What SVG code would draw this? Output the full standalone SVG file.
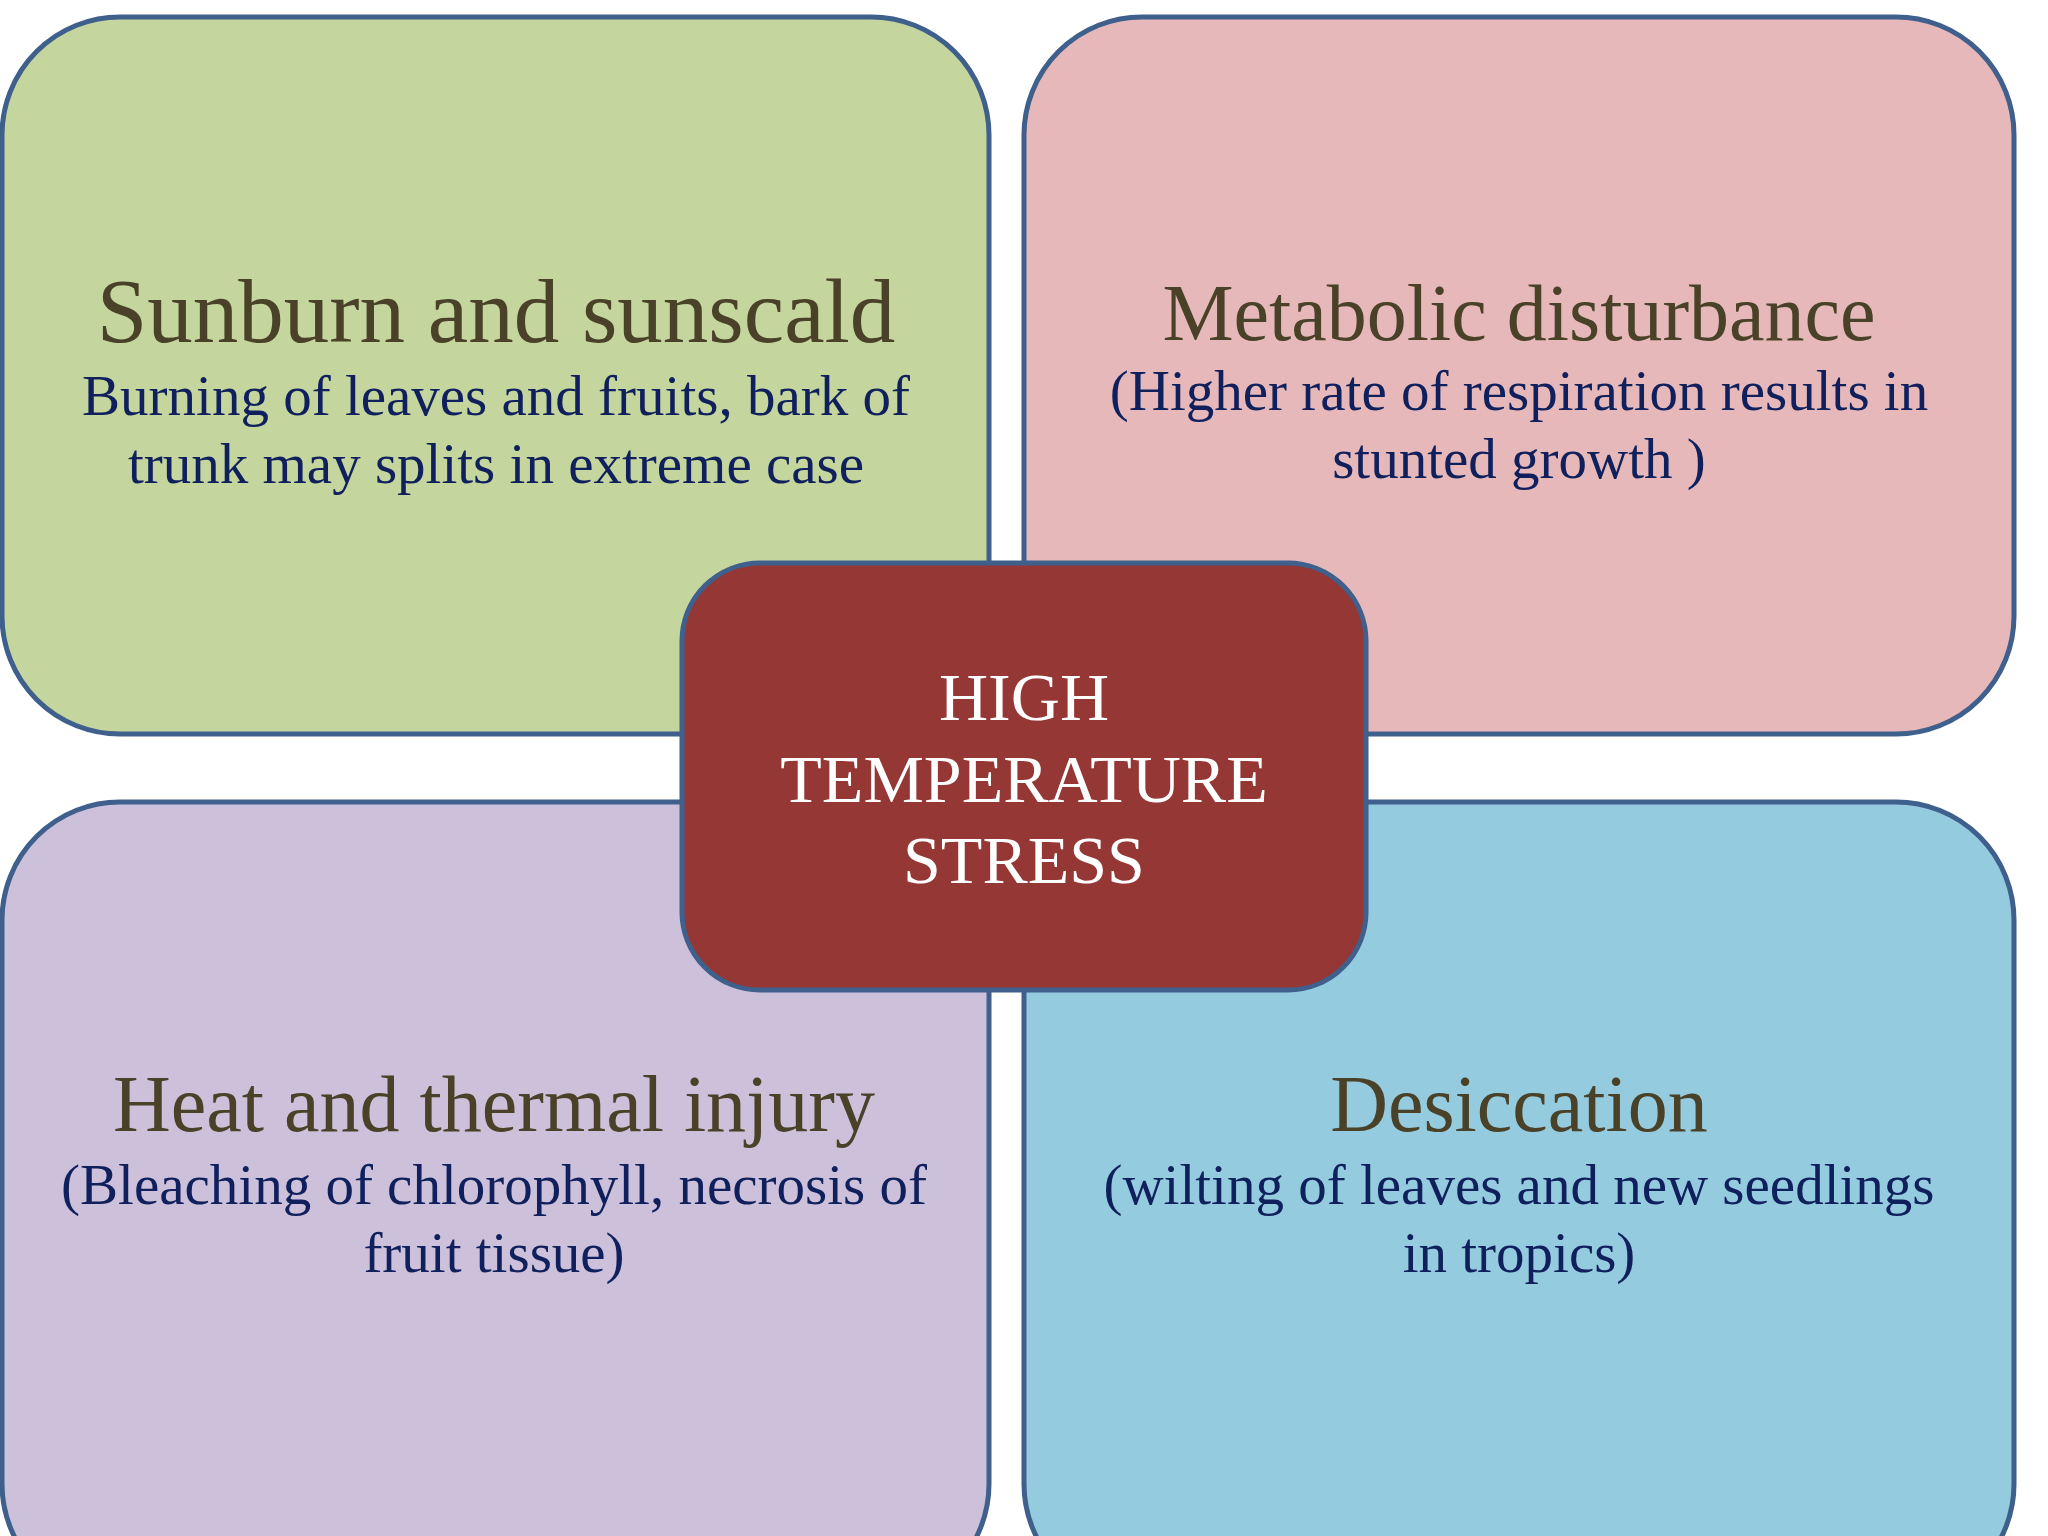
<svg xmlns="http://www.w3.org/2000/svg" width="2048" height="1536" viewBox="0 0 2048 1536">
<style>
.box{stroke:#3f5f8c;stroke-width:5}
.t{font-family:"Liberation Serif",serif;font-size:80px;fill:#4a4228;text-anchor:middle}
.s{font-family:"Liberation Serif",serif;font-size:57px;fill:#10205c;text-anchor:middle}
.c{font-family:"Liberation Serif",serif;font-size:68px;fill:#ffffff;text-anchor:middle}
</style>
<rect width="2048" height="1536" fill="#ffffff"/>
<g id="n1"><rect class="box" x="2" y="17" width="987" height="717" rx="118" fill="#c4d59e"/>
<text class="t" x="496" y="342" style="font-size:91px">Sunburn and sunscald</text>
<text class="s" x="496" y="415">Burning of leaves and fruits, bark of</text>
<text class="s" x="496" y="483">trunk may splits in extreme case</text></g>
<g id="n2"><rect class="box" x="1024" y="17" width="990" height="717" rx="118" fill="#e6b8b9"/>
<text class="t" x="1519" y="340">Metabolic disturbance</text>
<text class="s" x="1519" y="410">(Higher rate of respiration results in</text>
<text class="s" x="1519" y="478">stunted growth )</text></g>
<g id="n3"><rect class="box" x="2" y="802" width="987" height="800" rx="118" fill="#ccc0da"/>
<text class="t" x="494" y="1131">Heat and thermal injury</text>
<text class="s" x="494" y="1204">(Bleaching of chlorophyll, necrosis of</text>
<text class="s" x="494" y="1272">fruit tissue)</text></g>
<g id="n4"><rect class="box" x="1024" y="802" width="990" height="800" rx="118" fill="#95cbdf"/>
<text class="t" x="1519" y="1131">Desiccation</text>
<text class="s" x="1519" y="1204">(wilting of leaves and new seedlings</text>
<text class="s" x="1519" y="1272">in tropics)</text></g>
<g id="center"><rect class="box" x="682" y="563" width="684" height="427" rx="78" fill="#953735"/>
<text class="c" x="1024" y="720">HIGH</text>
<text class="c" x="1024" y="802">TEMPERATURE</text>
<text class="c" x="1024" y="883">STRESS</text></g>
<g id="connectors"/>
</svg>
